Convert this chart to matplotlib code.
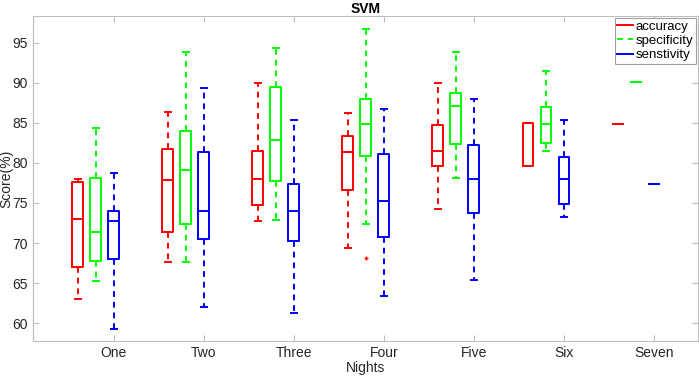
import matplotlib.pyplot as plt
from matplotlib.lines import Line2D

plt.rcParams['font.family'] = ['Liberation Sans', 'DejaVu Sans']

nights = ['One', 'Two', 'Three', 'Four', 'Five', 'Six', 'Seven']
series = ['accuracy', 'specificity', 'senstivity']
colors = ['#ff0000', '#00ff00', '#0000ff']

# five-number summaries: lo whisker, q1, median, q3, hi whisker
acc_lo = [63.0, 67.7, 72.8, 69.4, 74.2, 79.65, 84.9]
acc_q1 = [67.0, 71.4, 74.7, 76.6, 79.6, 79.65, 84.9]
acc_med = [73.0, 77.9, 78.0, 81.3, 81.5, 79.65, 84.9]
acc_q3 = [77.6, 81.7, 81.5, 83.3, 84.7, 84.95, 84.9]
acc_hi = [78.0, 86.4, 90.0, 86.2, 89.9, 84.95, 84.9]

spe_lo = [65.3, 67.6, 72.9, 72.4, 78.1, 81.5, 90.05]
spe_q1 = [67.8, 72.4, 77.7, 80.9, 82.3, 82.5, 90.05]
spe_med = [71.4, 79.1, 82.8, 84.8, 87.1, 84.8, 90.05]
spe_q3 = [78.1, 84.0, 89.4, 88.0, 88.7, 87.0, 90.05]
spe_hi = [84.3, 93.8, 94.3, 96.7, 93.8, 91.5, 90.05]

sen_lo = [59.3, 62.0, 61.3, 63.4, 65.4, 73.3, 77.4]
sen_q1 = [68.0, 70.5, 70.2, 70.8, 73.7, 74.9, 77.4]
sen_med = [72.7, 74.0, 74.0, 75.3, 78.0, 78.0, 77.4]
sen_q3 = [74.0, 81.3, 77.4, 81.1, 82.2, 80.7, 77.4]
sen_hi = [78.7, 89.3, 85.4, 86.7, 88.0, 85.4, 77.4]

# outliers: night index -> values
spe_outliers = {3: [68.1]}

summaries = [
    (acc_lo, acc_q1, acc_med, acc_q3, acc_hi, {}),
    (spe_lo, spe_q1, spe_med, spe_q3, spe_hi, spe_outliers),
    (sen_lo, sen_q1, sen_med, sen_q3, sen_hi, {}),
]
offsets = [-0.4, -0.2, 0.0]

fig = plt.figure(figsize=(6.99, 3.77), dpi=100)
ax = fig.add_axes([0.047, 0.0955, 0.9516, 0.862])

for (lo, q1, med, q3, hi, outl), col, off in zip(summaries, colors, offsets):
    stats = []
    for i in range(len(nights)):
        stats.append({'whislo': lo[i], 'q1': q1[i], 'med': med[i],
                      'q3': q3[i], 'whishi': hi[i],
                      'fliers': outl.get(i, [])})
    pos = [i + 1 + off for i in range(len(nights))]
    ax.bxp(stats, positions=pos, widths=0.12, manage_ticks=False,
           boxprops=dict(color=col, linewidth=1.4),
           medianprops=dict(color=col, linewidth=1.4),
           whiskerprops=dict(color=col, linewidth=1.4, linestyle=(0, (3, 2.5))),
           capprops=dict(color=col, linewidth=1.4),
           flierprops=dict(marker='+', markeredgecolor='red', markersize=2.5))

ax.set_xlim(0.1, 7.49)
ax.set_ylim(57.8, 98.3)
ax.set_xticks(range(1, len(nights) + 1))
ax.set_xticklabels(nights)
ax.set_yticks([60, 65, 70, 75, 80, 85, 90, 95])

for s in ax.spines.values():
    s.set_color('#bdbdbd')
ax.tick_params(direction='in', top=True, right=True, color='#bdbdbd',
               labelcolor='#262626', labelsize=10, length=4)

ax.set_title('SVM', fontsize=10, fontweight='bold', pad=2)
ax.set_xlabel('Nights', fontsize=10, color='#262626', labelpad=1)
ax.set_ylabel('Score(%)', fontsize=10, color='#262626')
ax.yaxis.set_label_coords(-0.030, 0.5)

handles = [Line2D([], [], color=colors[0], linewidth=1.4),
           Line2D([], [], color=colors[1], linewidth=1.4, linestyle=(0, (3, 2.5))),
           Line2D([], [], color=colors[2], linewidth=1.4)]
leg = ax.legend(handles, series, loc='upper right', fontsize=9.5,
                handlelength=1.2, handletextpad=0.2, borderpad=0.2,
                labelspacing=0.15, borderaxespad=0.15, fancybox=False,
                framealpha=1)
leg.get_frame().set_edgecolor('#a0a0a0')
leg.get_frame().set_linewidth(0.8)

fig.savefig('out.png', dpi=100)
